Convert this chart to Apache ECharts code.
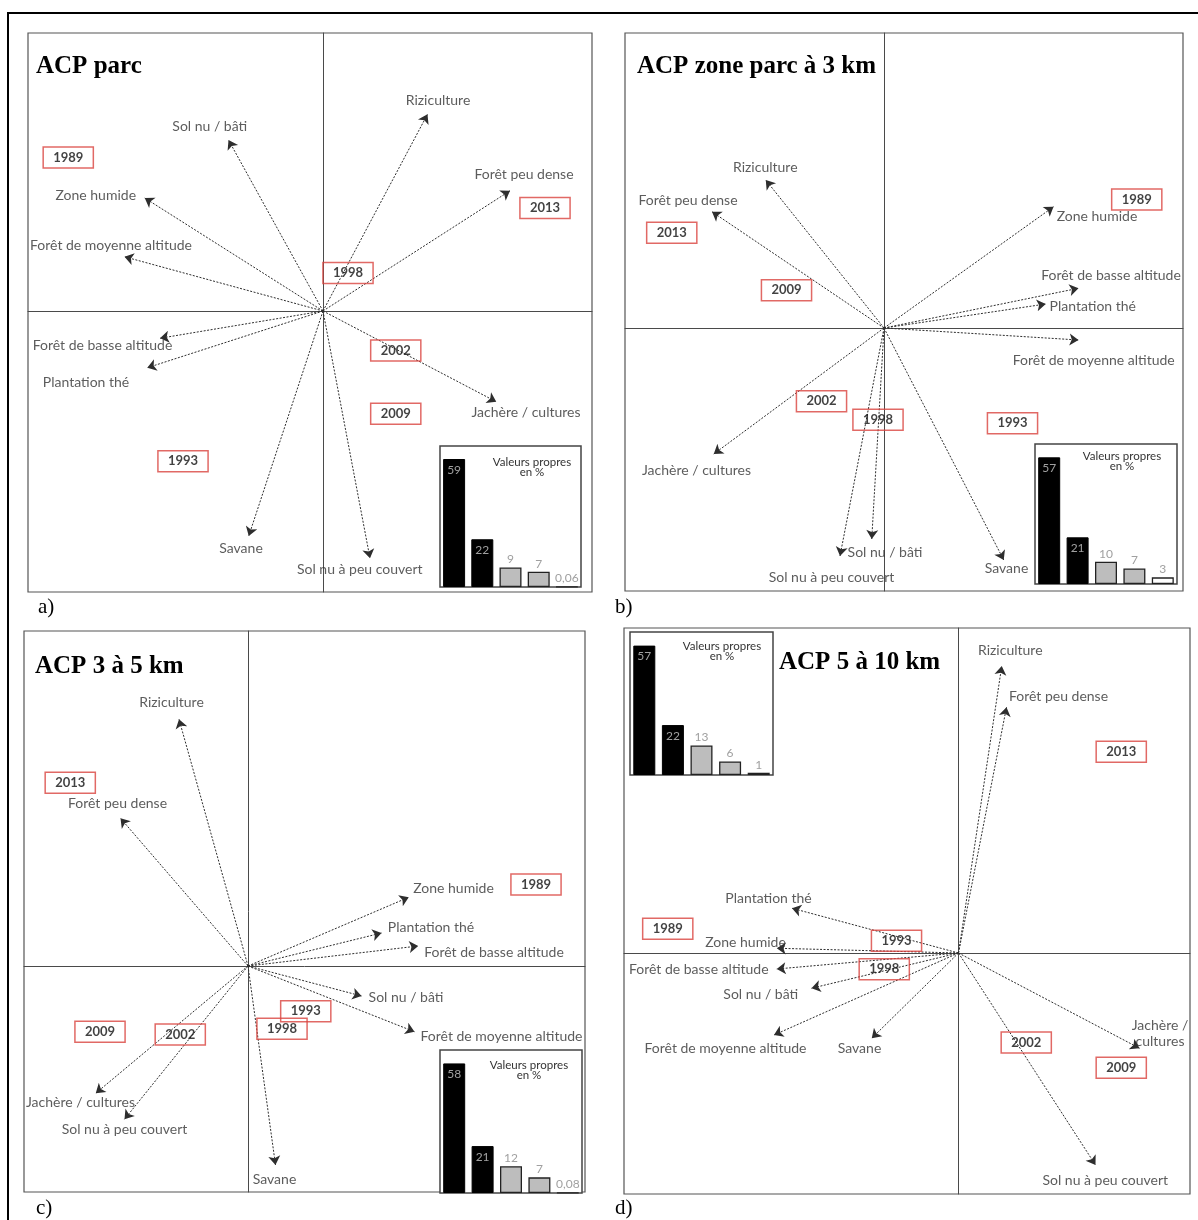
<!DOCTYPE html>
<html>
<head>
<meta charset="utf-8">
<script src="https://cdn.jsdelivr.net/npm/echarts@6/dist/echarts.min.js"></script>
<style>
html,body{margin:0;padding:0;background:#fff;}
#chart{width:1198px;height:1220px;}
</style>
</head>
<body>
<div id="chart"></div>
<script>
// ---------- Panel a : ACP parc ----------
const varsA = ['Riziculture','Sol nu / bâti','Forêt peu dense','Zone humide','Forêt de moyenne altitude','Forêt de basse altitude','Plantation thé','Jachère / cultures','Savane','Sol nu à peu couvert'];
const tipsA = [[0.418,0.787],[-0.378,0.684],[0.748,0.481],[-0.713,0.452],[-0.794,0.217],[-0.652,-0.109],[-0.703,-0.227],[0.693,-0.363],[-0.297,-0.9],[0.188,-0.989]];
const labA = [[0.46,0.844],[-0.453,0.739],[0.804,0.545],[-0.909,0.461],[-0.848,0.264],[-0.882,-0.136],[-0.948,-0.285],[0.812,-0.407],[-0.328,-0.951],[0.147,-1.033]];
const yearsA = ['1989','2013','1998','2002','2009','1993'];
const yearPosA = [[-1.019,0.614],[0.888,0.412],[0.1,0.152],[0.291,-0.158],[0.291,-0.411],[-0.56,-0.601]];
const eigA = [59,22,9,7,0.06];

// ---------- Panel b : ACP zone parc à 3 km ----------
const varsB = ['Riziculture','Forêt peu dense','Zone humide','Forêt de basse altitude','Plantation thé','Forêt de moyenne altitude','Jachère / cultures','Sol nu à peu couvert','Sol nu / bâti','Savane'];
const tipsB = [[-0.473,0.592],[-0.688,0.465],[0.678,0.485],[0.778,0.159],[0.647,0.096],[0.778,-0.048],[-0.681,-0.504],[-0.176,-0.912],[-0.049,-0.844],[0.479,-0.928]];
const labB = [[-0.475,0.643],[-0.784,0.512],[0.852,0.448],[0.908,0.212],[0.835,0.085],[0.839,-0.128],[-0.75,-0.568],[-0.21,-0.997],[0.004,-0.899],[0.49,-0.963]];
const yearsB = ['2013','2009','1989','2002','1998','1993'];
const yearPosB = [[-0.849,0.381],[-0.39,0.151],[1.011,0.514],[-0.25,-0.293],[-0.024,-0.367],[0.514,-0.381]];
const eigB = [57,21,10,7,3];

// ---------- Panel c : ACP 3 à 5 km ----------
const varsC = ['Riziculture','Forêt peu dense','Zone humide','Plantation thé','Forêt de basse altitude','Sol nu / bâti','Forêt de moyenne altitude','Savane','Jachère / cultures','Sol nu à peu couvert'];
const tipsC = [[-0.276,0.987],[-0.51,0.591],[0.643,0.275],[0.534,0.132],[0.681,0.08],[0.454,-0.12],[0.666,-0.263],[0.11,-0.796],[-0.609,-0.509],[-0.494,-0.613]];
const labC = [[-0.306,1.055],[-0.522,0.651],[0.822,0.309],[0.732,0.155],[0.984,0.053],[0.632,-0.125],[1.014,-0.283],[0.106,-0.853],[-0.67,-0.544],[-0.494,-0.653]];
const yearsC = ['2013','1989','2009','2002','1993','1998'];
const yearPosC = [[-0.711,0.733],[1.152,0.326],[-0.592,-0.263],[-0.271,-0.274],[0.231,-0.181],[0.136,-0.251]];
const eigC = [58,21,12,7,0.08];

// ---------- Panel d : ACP 5 à 10 km ----------
const varsD = ['Riziculture','Forêt peu dense','Plantation thé','Zone humide','Forêt de basse altitude','Sol nu / bâti','Forêt de moyenne altitude','Savane','Jachère /\ncultures','Sol nu à peu couvert'];
const tipsD = [[0.173,1.148],[0.192,0.983],[-0.666,0.179],[-0.727,0.019],[-0.727,-0.064],[-0.588,-0.141],[-0.738,-0.328],[-0.347,-0.341],[0.724,-0.381],[0.548,-0.848]];
const labD = [[0.207,1.209],[0.4,1.025],[-0.76,0.219],[-0.852,0.041],[-1.039,-0.065],[-0.791,-0.164],[-0.932,-0.381],[-0.396,-0.381],[0.806,-0.323],[0.587,-0.908]];
const yearsD = ['2013','1989','1993','1998','2002','2009'];
const yearPosD = [[0.651,0.805],[-1.163,0.097],[-0.248,0.049],[-0.297,-0.065],[0.271,-0.358],[0.651,-0.459]];
const eigD = [57,22,13,6,1];

const eigCats = ['F1','F2','F3','F4','F5'];
const titles = ['ACP parc','ACP zone parc à 3 km','ACP 3 à 5 km','ACP 5 à 10 km'];
const letters = ['a)','b)','c)','d)'];

// ---------- layout ----------
const panels = [
  {vars:varsA,tips:tipsA,labs:labA,years:yearsA,yp:yearPosA,eig:eigA,
   grid:{left:28,top:33,width:564,height:559}, xr:[-1.18,1.076], yr:[-1.124,1.112],
   inset:{left:440,top:446,width:141,height:141}, imax:65, ititle:[532,467],
   title:[36,67], letter:[38,607]},
  {vars:varsB,tips:tipsB,labs:labB,years:yearsB,yp:yearPosB,eig:eigB,
   grid:{left:625,top:33,width:558,height:558}, xr:[-1.036,1.196], yr:[-1.052,1.18],
   inset:{left:1035,top:444,width:142,height:140}, imax:63, ititle:[1122,461],
   title:[637,67], letter:[615,607]},
  {vars:varsC,tips:tipsC,labs:labC,years:yearsC,yp:yearPosC,eig:eigC,
   grid:{left:24,top:631,width:561,height:561}, xr:[-0.896,1.348], yr:[-0.904,1.34],
   inset:{left:440,top:1050,width:142,height:143}, imax:64, ititle:[529,1070],
   title:[35,667], letter:[36,1208]},
  {vars:varsD,tips:tipsD,labs:labD,years:yearsD,yp:yearPosD,eig:eigD,
   grid:{left:624,top:628,width:566,height:566}, xr:[-1.338,0.926], yr:[-0.964,1.3],
   inset:{left:630,top:632,width:143,height:143}, imax:63, ititle:[722,651],
   title:[779,663], letter:[615,1208]}
];

const grids = [], xAxes = [], yAxes = [], series = [], graphic = [];
const axisLineStyle = {color:'#4a4a4a', width:1};

panels.forEach((p,i) => {
  grids.push(Object.assign({show:true, borderColor:'#555', borderWidth:1.2, backgroundColor:'transparent', containLabel:false}, p.grid));
  xAxes.push({type:'value', gridIndex:i, min:p.xr[0], max:p.xr[1],
    axisLine:{show:true,onZero:true,lineStyle:axisLineStyle}, axisTick:{show:false}, axisLabel:{show:false}, splitLine:{show:false}});
  yAxes.push({type:'value', gridIndex:i, min:p.yr[0], max:p.yr[1],
    axisLine:{show:true,onZero:true,lineStyle:axisLineStyle}, axisTick:{show:false}, axisLabel:{show:false}, splitLine:{show:false}});
});
panels.forEach((p,i) => {
  const g = 4 + i;
  grids.push(Object.assign({show:true, borderColor:'#444', borderWidth:1.5, backgroundColor:'#fff', containLabel:false, z:5}, p.inset));
  xAxes.push({type:'category', gridIndex:g, data:eigCats, show:false, boundaryGap:true});
  yAxes.push({type:'value', gridIndex:g, min:0, max:p.imax, show:false});
});

panels.forEach((p,i) => {
  // arrows
  series.push({
    type:'lines', coordinateSystem:'cartesian2d', xAxisIndex:i, yAxisIndex:i, silent:true, z:3,
    symbol:['none','arrow'], symbolSize:9,
    lineStyle:{color:'#2e2e2e', width:1, type:[2,1.5], opacity:1, curveness:0},
    data:p.tips.map(t => ({coords:[[0,0],t]}))
  });
  // variable labels
  series.push({
    type:'scatter', xAxisIndex:i, yAxisIndex:i, silent:true, z:4, symbolSize:0,
    data:p.labs.map((c,k) => ({name:p.vars[k], value:c})),
    label:{show:true, position:'inside', formatter:'{b}', color:'#333', fontFamily:'Lato', fontSize:14, lineHeight:16}
  });
  // year boxes
  series.push({
    type:'scatter', xAxisIndex:i, yAxisIndex:i, silent:true, z:4, symbolSize:0,
    data:p.yp.map((c,k) => ({name:p.years[k], value:c})),
    label:{show:true, position:'inside', formatter:'{b}', color:'#111', fontFamily:'Lato', fontWeight:'bold', fontSize:13,
      borderColor:'#d9443f', borderWidth:1.5, padding:[5,10,3,10]}
  });
  // eigenvalue bars
  series.push({
    type:'bar', xAxisIndex:4+i, yAxisIndex:4+i, silent:true, z:6, barWidth:22,
    data:p.eig.map((v,j) => ({
      value:v,
      itemStyle: j < 2 ? {color:'#000', borderColor:'#000', borderWidth:1}
               : j < 4 ? {color:'#bdbdbd', borderColor:'#222', borderWidth:1.3}
               : {color:'#fff', borderColor:'#222', borderWidth:1.3},
      label: j < 2 ? {show:true, position:'insideTop', distance:5, color:'#a0a0a0', fontSize:12, fontFamily:'Lato'}
                   : {show:true, position:'top', distance:2, color:'#a0a0a0', fontSize:12, fontFamily:'Lato'}
    })),
    label:{formatter:(q) => String(q.value).replace('.', ',')}
  });

  graphic.push({type:'text', x:p.title[0], y:p.title[1], z:10,
    style:{text:titles[i], font:'bold 25px "Liberation Serif"', fill:'#000', textAlign:'left', textVerticalAlign:'middle'}});
  graphic.push({type:'text', x:p.letter[0], y:p.letter[1], z:10,
    style:{text:letters[i], font:'21px "Liberation Serif"', fill:'#000', textAlign:'left', textVerticalAlign:'middle'}});
  graphic.push({type:'text', x:p.ititle[0], y:p.ititle[1], z:10,
    style:{text:'Valeurs propres\nen %', font:'11.5px Lato', lineHeight:10, fill:'#333', textAlign:'center', textVerticalAlign:'middle'}});
});

graphic.push({type:'polyline', z:10, shape:{points:[[8,1220],[8,13],[1198,13]]}, style:{stroke:'#000', lineWidth:2, fill:null}});

const chart = echarts.init(document.getElementById('chart'), null, {renderer:'canvas'});
chart.setOption({
  animation:false,
  backgroundColor:'#fff',
  grid:grids, xAxis:xAxes, yAxis:yAxes, series:series, graphic:graphic
});
</script>
</body>
</html>
